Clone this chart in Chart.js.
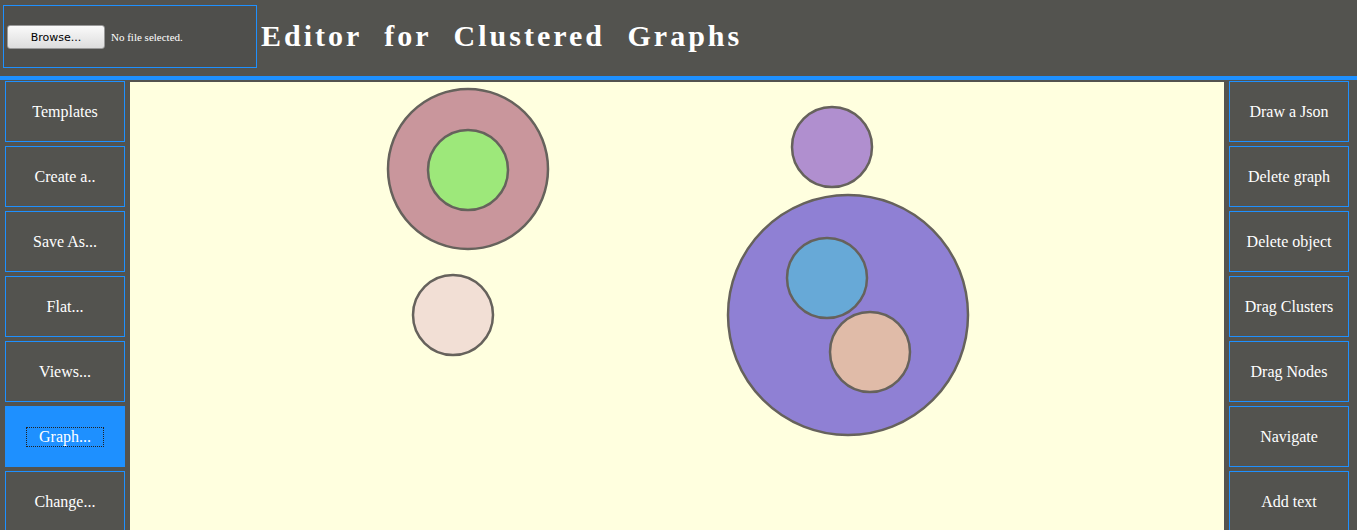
<!DOCTYPE html>
<html><head><meta charset="utf-8">
<script src="https://cdn.jsdelivr.net/npm/chart.js@4"></script>
<style>
body{margin:0;width:1357px;height:530px;overflow:hidden;background:#53534f;font-family:"Liberation Serif","DejaVu Serif",serif;position:relative}
#head{position:absolute;left:0;top:0;width:1357px;height:76px;background:#53534f;border-bottom:4px solid #1e90ff}
#file{position:absolute;left:3px;top:5px;width:252px;height:61px;border:1px solid #1e90ff;background:#4f4f4c}
#file button{position:absolute;left:3px;top:19px;width:98px;height:24px;font:11px "DejaVu Sans",sans-serif;background:linear-gradient(#fafafa,#ddd);border:1px solid #999;border-radius:3px}
#file span{position:absolute;left:107px;top:25px;color:#fff;font:11px "Liberation Serif",serif}
h1{position:absolute;left:261px;top:19px;margin:0;color:#fff;font:bold 30px "Liberation Serif",serif;letter-spacing:3px;word-spacing:12px}
.btn{position:absolute;width:118px;height:59px;border:1px solid #1e90ff;background:#53534f;color:#fff;font:16px "Liberation Serif","DejaVu Serif",serif;display:flex;align-items:center;justify-content:center}
.act{background:#1e90ff}
.act span{border:1px dotted #222;padding:0 12px}
#area{position:absolute;left:130px;top:82px;width:1094px;height:448px;background:#ffffdf}
</style></head><body>
<div id="head">
<div id="file"><button>Browse...</button><span>No file selected.</span></div>
<h1>Editor for Clustered Graphs</h1>
</div>
<div id="left"></div><div id="right"></div>
<div id="area"><canvas id="c" width="1094" height="448"></canvas></div>
<script>
const leftButtons = ["Templates","Create a..","Save As...","Flat...","Views...","Graph...","Change..."];
const rightButtons = ["Draw a Json","Delete graph","Delete object","Drag Clusters","Drag Nodes","Navigate","Add text"];
// circles in canvas pixel units: x, y, radius (outer ones first)
const circleX = [338, 338, 323, 702, 718, 697, 740];
const circleY = [87, 88, 233, 65, 233, 196, 270];
const circleR = [80, 40, 40, 40, 120, 40, 40];
const circleColors = ["#c9969c","#9de87a","#f2dfd5","#b08fcf","#8f80d4","#67a9d7","#e0bba8"];

function addButtons(id, labels, left) {
  const host = document.getElementById(id);
  labels.forEach((t, i) => {
    const d = document.createElement("div");
    d.className = "btn" + (t === "Graph..." ? " act" : "");
    d.style.left = left + "px";
    d.style.top = (81 + i * 65) + "px";
    d.innerHTML = "<span>" + t + "</span>";
    host.appendChild(d);
  });
}
addButtons("left", leftButtons, 5);
addButtons("right", rightButtons, 1229);

// bubble datasets are painted last-to-first, so reverse to keep inner circles on top
const datasets = circleX.map((x, i) => ({
  data: [{ x, y: circleY[i], r: circleR[i] }],
  backgroundColor: circleColors[i],
  borderColor: "#66625c",
  borderWidth: 2.5,
  clip: false
})).reverse();

new Chart(document.getElementById("c"), {
  type: "bubble",
  data: { datasets },
  options: {
    responsive: false,
    animation: false,
    layout: { padding: 0, autoPadding: false },
    plugins: { legend: { display: false }, tooltip: { enabled: false } },
    scales: {
      x: { type: "linear", min: 0, max: 1094, display: false },
      y: { type: "linear", min: 0, max: 448, reverse: true, display: false }
    }
  }
});
</script>
</body></html>
